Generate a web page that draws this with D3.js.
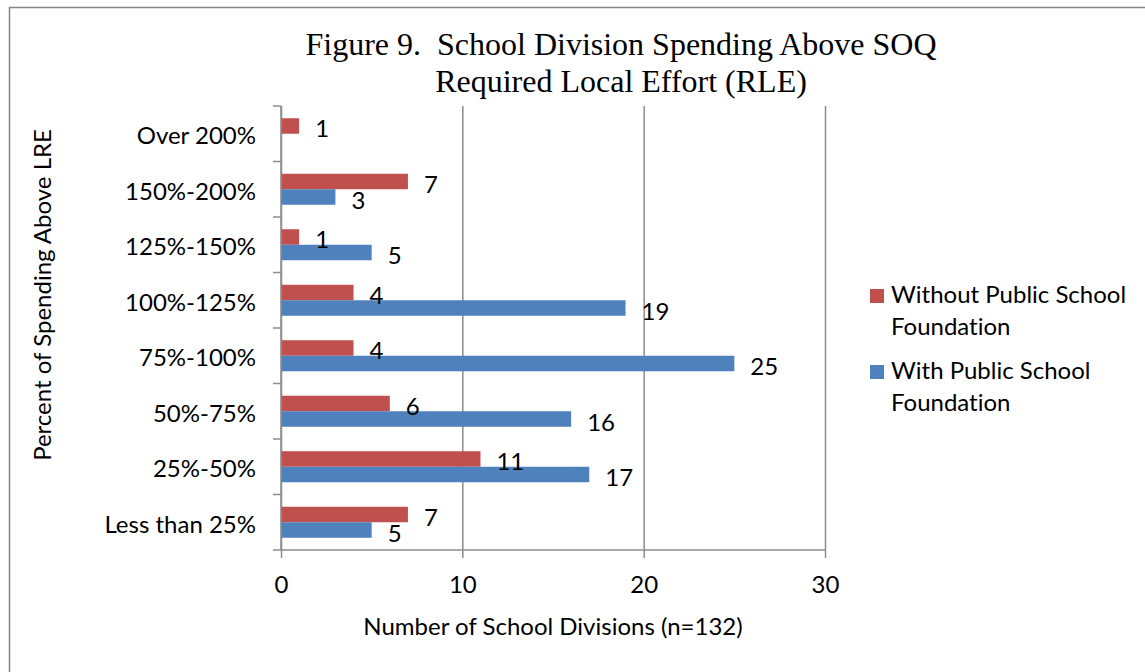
<!DOCTYPE html>
<html>
<head>
<meta charset="utf-8">
<script src="https://cdn.jsdelivr.net/npm/d3@7"></script>
<style>
    body { margin: 0; background: #fff; }
    svg { display: block; }
    .lbl { font-family: Lato, "Open Sans", sans-serif; fill: #000; font-variant-ligatures: none; }
    .ttl { font-family: "Liberation Serif", "Times New Roman", serif; fill: #000; }
</style>
</head>
<body>
<div class="plotWrapper"></div>
<script>
// categories top to bottom
let categories = ["Over 200%", "150%-200%", "125%-150%", "100%-125%", "75%-100%", "50%-75%", "25%-50%", "Less than 25%"];
let seriesNames = ["Without Public School Foundation", "With Public School Foundation"];
let withoutValues = [1, 7, 1, 4, 4, 6, 11, 7];
let withValues = [null, 3, 5, 19, 25, 16, 17, 5];
let xTicks = [0, 10, 20, 30];
let colors = ["#C0504D", "#4F81BD"];

let width = 1145;
let height = 672;
let margin = {top: 106, left: 281, right: 320, bottom: 122};
let fontSize = 24;

let svg = d3.select(".plotWrapper")
    .append("svg")
    .attr("width", width)
    .attr("height", height);

// outer chart frame (runs off the right and bottom)
svg.append("rect")
    .attr("x", 9.5).attr("y", 7.5)
    .attr("width", width).attr("height", height)
    .attr("fill", "none")
    .attr("stroke", "#868686")
    .attr("stroke-width", 1.5);

let plotW = width - margin.left - margin.right;
let plotH = height - margin.top - margin.bottom;

let xScale = d3.scaleLinear().domain([0, 30]).range([margin.left, margin.left + plotW]);
let yScale = d3.scaleBand().domain(categories).range([margin.top, margin.top + plotH]);
let subScale = d3.scaleBand().domain([0, 1]).range([0, yScale.bandwidth()]).paddingOuter(0.79);

// vertical grid lines
let grid = svg.append("g")
    .attr("transform", `translate(0,${margin.top + plotH})`)
    .call(d3.axisBottom(xScale).tickValues(xTicks).tickSize(-plotH).tickFormat(""));
grid.select(".domain").remove();
grid.selectAll("line").attr("stroke", "#8c8c8c").attr("stroke-width", 1.5);

// bars
let flat = [];
categories.forEach((c, i) => {
    flat.push({cat: c, s: 0, value: withoutValues[i]});
    if (withValues[i] != null) flat.push({cat: c, s: 1, value: withValues[i]});
});

svg.append("g").selectAll("rect")
    .data(flat)
    .join("rect")
    .attr("x", xScale(0))
    .attr("y", d => yScale(d.cat) + subScale(d.s))
    .attr("width", d => xScale(d.value) - xScale(0))
    .attr("height", subScale.bandwidth())
    .attr("fill", d => colors[d.s]);

svg.append("g").selectAll("text")
    .data(flat)
    .join("text")
    .attr("class", "lbl")
    .attr("x", d => xScale(d.value) + 16)
    .attr("y", d => yScale(d.cat) + subScale(d.s) + subScale.bandwidth() / 2 + 2)
    .attr("dominant-baseline", "central")
    .style("font-size", fontSize + "px")
    .text(d => d.value);

// x axis
let xAxis = svg.append("g")
    .attr("transform", `translate(0,${margin.top + plotH})`)
    .call(d3.axisBottom(xScale).tickValues(xTicks).tickSize(8).tickPadding(18));
xAxis.select(".domain").attr("stroke", "#8c8c8c").attr("stroke-width", 1.5)
    .attr("d", `M${xScale(0)},0H${xScale(30)}`);
xAxis.selectAll("line").attr("stroke", "#8c8c8c").attr("stroke-width", 1.5);
xAxis.selectAll("text").attr("class", "lbl").style("font-size", fontSize + "px").attr("fill", "#000");

// y axis: line plus ticks at band edges
let yAxis = svg.append("g");
yAxis.append("line")
    .attr("x1", xScale(0)).attr("x2", xScale(0))
    .attr("y1", margin.top).attr("y2", margin.top + plotH)
    .attr("stroke", "#8c8c8c").attr("stroke-width", 1.5);
let edges = categories.map(c => yScale(c)).concat([yScale(categories[categories.length - 1]) + yScale.bandwidth()]);
yAxis.selectAll(".edge")
    .data(edges)
    .join("line")
    .attr("class", "edge")
    .attr("x1", xScale(0) - 8).attr("x2", xScale(0))
    .attr("y1", d => d).attr("y2", d => d)
    .attr("stroke", "#8c8c8c").attr("stroke-width", 1.5);
yAxis.selectAll(".cat")
    .data(categories)
    .join("text")
    .attr("class", "lbl cat")
    .attr("x", xScale(0) - 25)
    .attr("y", d => yScale(d) + yScale.bandwidth() / 2 + 1)
    .attr("text-anchor", "end")
    .attr("dominant-baseline", "central")
    .style("font-size", fontSize + "px")
    .text(d => d);

// axis titles
svg.append("text")
    .attr("class", "lbl")
    .attr("x", xScale(15))
    .attr("y", 635)
    .attr("text-anchor", "middle")
    .style("font-size", fontSize + "px")
    .text("Number of School Divisions (n=132)");

svg.append("text")
    .attr("class", "lbl")
    .attr("transform", "translate(51,295) rotate(-90)")
    .attr("text-anchor", "middle")
    .style("font-size", fontSize + "px")
    .text("Percent of Spending Above LRE");

// chart title
let title = svg.append("text")
    .attr("class", "ttl")
    .attr("text-anchor", "middle")
    .style("font-size", "32px")
    .style("white-space", "pre");
title.append("tspan").attr("x", 621).attr("y", 55).text("Figure 9.  School Division Spending Above SOQ");
title.append("tspan").attr("x", 621).attr("y", 92).text("Required Local Effort (RLE)");

// legend
let legendLines = [["Without Public School", "Foundation"], ["With Public School", "Foundation"]];
let legend = svg.append("g").selectAll("g")
    .data(seriesNames)
    .join("g")
    .attr("transform", (d, i) => `translate(870,${289 + i * 76})`);
legend.append("rect")
    .attr("width", 14).attr("height", 14)
    .attr("fill", (d, i) => colors[i]);
legend.append("text")
    .attr("class", "lbl")
    .style("font-size", fontSize + "px")
    .selectAll("tspan")
    .data((d, i) => legendLines[i])
    .join("tspan")
    .attr("x", 21)
    .attr("y", (d, j) => 14 + j * 32)
    .text(d => d);
</script>
</body>
</html>
